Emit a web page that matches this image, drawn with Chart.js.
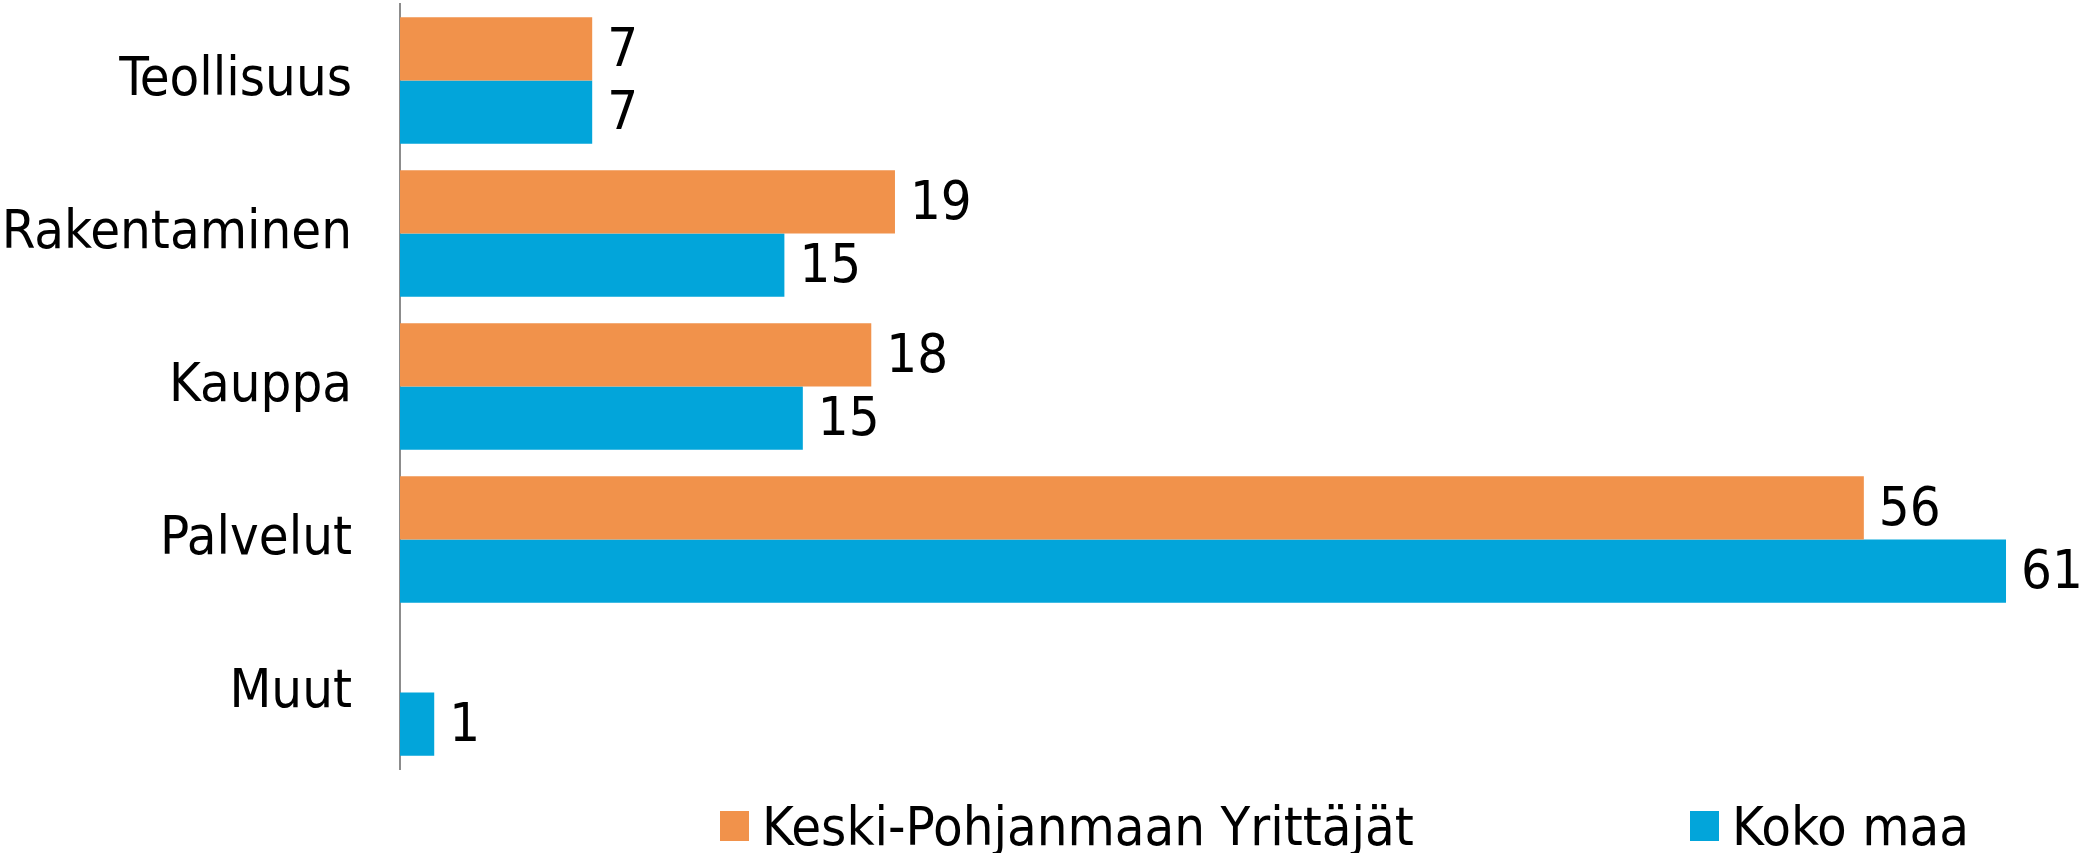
<!DOCTYPE html>
<html>
<head>
<meta charset="utf-8">
<script src="https://cdn.jsdelivr.net/npm/chart.js@4.4.1/dist/chart.umd.min.js"></script>
<style>
  html, body { margin: 0; padding: 0; background: #fff; }
  .wrap { position: relative; width: 2085px; height: 853px; }
  .legend { position: absolute; top: 790px; left: 0; height: 72px; font-family: 'Liberation Sans Narrow', 'DejaVu Sans Condensed', sans-serif; font-size: 54px; color: #000; }
  .legend-item { position: absolute; display: flex; align-items: center; white-space: nowrap; height: 72px; }
  .legend-box { width: 29px; height: 30px; margin-right: 13px; }
</style>
</head>
<body>
<div class="wrap">
  <canvas id="chart"></canvas>
  <div class="legend" id="legend"></div>
</div>
<script>
const categories = ['Teollisuus', 'Rakentaminen', 'Kauppa', 'Palvelut', 'Muut'];
const seriesNames = ['Keski-Pohjanmaan Yrittäjät', 'Koko maa'];
const keskiPohjanmaa = [7.3, 18.8, 17.9, 55.6, null];
const kokoMaa = [7.3, 14.6, 15.3, 61.0, 1.3];
const colors = ['#F1924B', '#02A5DA'];

const FONT = "'Liberation Sans Narrow', 'DejaVu Sans Condensed', sans-serif";

// value labels at the end of each bar
const barLabels = {
  id: 'barLabels',
  afterDatasetsDraw(chart) {
    const ctx = chart.ctx;
    ctx.save();
    ctx.font = '54px ' + FONT;
    ctx.fillStyle = '#000';
    ctx.textAlign = 'left';
    ctx.textBaseline = 'middle';
    chart.data.datasets.forEach((ds, i) => {
      chart.getDatasetMeta(i).data.forEach((bar, j) => {
        const v = ds.data[j];
        if (v === null || v === undefined) return;
        ctx.fillText(String(Math.round(v)), bar.x + 15, bar.y + 3);
      });
    });
    ctx.restore();
  }
};

new Chart(document.getElementById('chart'), {
  type: 'bar',
  data: {
    labels: categories,
    datasets: [
      { label: seriesNames[0], data: keskiPohjanmaa, backgroundColor: colors[0] },
      { label: seriesNames[1], data: kokoMaa, backgroundColor: colors[1] }
    ]
  },
  options: {
    indexAxis: 'y',
    responsive: true,
    maintainAspectRatio: false,
    animation: false,
    layout: { padding: { top: 4, bottom: 84, left: 0, right: 0 } },
    datasets: { bar: { categoryPercentage: 0.826, barPercentage: 1 } },
    plugins: {
      legend: { display: false },
      tooltip: { enabled: false }
    },
    scales: {
      x: { display: false, min: 0, max: 64 },
      y: {
        grid: { display: false, drawTicks: false },
        border: { display: true, color: '#8c8c8c', width: 2 },
        ticks: { color: '#000', padding: 48, font: { family: FONT, size: 54 } },
        afterFit(scale) {
          scale.width = 400;
          scale.paddingTop = 0;
          scale.paddingBottom = 0;
        }
      }
    }
  },
  plugins: [barLabels]
});

// legend (series names with colour boxes)
const legendEl = document.getElementById('legend');
const legendLeft = [720, 1690];
seriesNames.forEach((name, i) => {
  const item = document.createElement('div');
  item.className = 'legend-item';
  item.style.left = legendLeft[i] + 'px';
  item.innerHTML = `<span class="legend-box" style="background:${colors[i]}"></span><span>${name}</span>`;
  legendEl.appendChild(item);
});
</script>
</body>
</html>
